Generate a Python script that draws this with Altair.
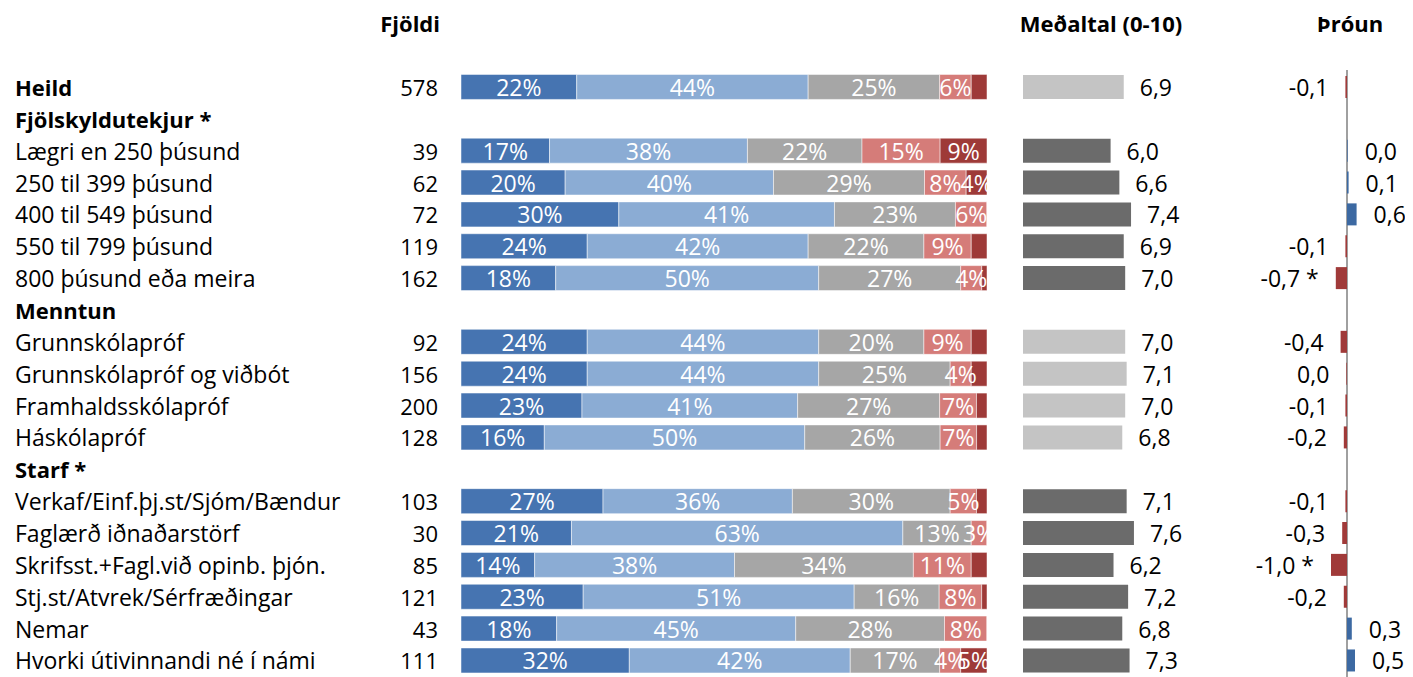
import altair as alt
import pandas as pd

FONT = "Open Sans"

rows = ["Heild", "Fjölskyldutekjur *", "Lægri en 250 þúsund", "250 til 399 þúsund",
        "400 til 549 þúsund", "550 til 799 þúsund", "800 þúsund eða meira", "Menntun",
        "Grunnskólapróf", "Grunnskólapróf og viðbót", "Framhaldsskólapróf", "Háskólapróf",
        "Starf *", "Verkaf/Einf.þj.st/Sjóm/Bændur", "Faglærð iðnaðarstörf",
        "Skrifsst.+Fagl.við opinb. þjón.", "Stj.st/Atvrek/Sérfræðingar", "Nemar",
        "Hvorki útivinnandi né í námi"]
is_header = [True, True, False, False, False, False, False, True, False, False, False, False,
             True, False, False, False, False, False, False]
group_sig = [False, True, True, True, True, True, True, False, False, False, False, False,
             True, True, True, True, True, True, True]
counts = [578, None, 39, 62, 72, 119, 162, None, 92, 156, 200, 128, None, 103, 30, 85, 121, 43, 111]

seg1 = [22, None, 17, 20, 30, 24, 18, None, 24, 24, 23, 16, None, 27, 21, 14, 23, 18, 32]
seg2 = [44, None, 38, 40, 41, 42, 50, None, 44, 44, 41, 50, None, 36, 63, 38, 51, 45, 42]
seg3 = [25, None, 22, 29, 23, 22, 27, None, 20, 25, 27, 26, None, 30, 13, 34, 16, 28, 17]
seg4 = [6, None, 15, 8, 6, 9, 4, None, 9, 4, 7, 7, None, 5, 3, 11, 8, 8, 4]
seg5 = [3, None, 9, 4, 0, 3, 1, None, 3, 3, 2, 2, None, 2, 0, 3, 1, 0, 5]

means = [6.9, None, 6.0, 6.6, 7.4, 6.9, 7.0, None, 7.0, 7.1, 7.0, 6.8, None, 7.1, 7.6, 6.2, 7.2, 6.8, 7.3]
trend = [-0.1, None, 0.04, 0.1, 0.6, -0.1, -0.7, None, -0.4, -0.04, -0.1, -0.2, None,
         -0.1, -0.3, -1.0, -0.2, 0.3, 0.5]
trend_sig = [False, False, False, False, False, False, True, False, False, False, False, False,
             False, False, False, True, False, False, False]

headers = ["Fjöldi", "Meðaltal (0-10)", "Þróun"]
seg_colors = ["#4674B1", "#8BACD4", "#A6A6A6", "#D57C79", "#9E3A38"]
label_min = [3, 3, 3, 3, 4]


def fmt(v):
    s = f"{abs(v):.1f}".replace(".", ",")
    if round(v, 1) < 0:
        s = "-" + s
    return s


rdf = pd.DataFrame({"row": rows, "header": is_header,
                    "count": [("" if c is None else str(c)) for c in counts]})

recs = []
for i, r in enumerate(rows):
    vals = [seg1[i], seg2[i], seg3[i], seg4[i], seg5[i]]
    if vals[0] is None:
        continue
    tot = float(sum(vals))
    cum = 0.0
    for k, v in enumerate(vals):
        x0 = cum / tot
        cum += v
        x1 = cum / tot
        recs.append({"row": r, "seg": k, "val": v, "x0": x0, "x1": x1, "mid": (x0 + x1) / 2,
                     "label": f"{v}%", "show": v >= label_min[k]})
sdf = pd.DataFrame(recs)

mrecs = []
for i, r in enumerate(rows):
    if means[i] is None:
        continue
    mrecs.append({"row": r, "mean": means[i], "mlabel": fmt(means[i]),
                  "mcol": "#6B6B6B" if group_sig[i] else "#C4C4C4",
                  "trend": trend[i],
                  "tlabel": fmt(trend[i]) + (" *" if trend_sig[i] else ""),
                  "tcol": "#3C69A2" if trend[i] > 0 else "#A03A39",
                  "pos": trend[i] > 0})
mdf = pd.DataFrame(mrecs)

Y = alt.Y("row:N", sort=rows, axis=None,
          scale=alt.Scale(domain=rows, range=[63.0, 668.4], paddingInner=0, paddingOuter=0))

SX = alt.Scale(domain=[0, 1], range=[453, 979])
MX = alt.Scale(domain=[0, 10], range=[1015, 1161])
TX = alt.Scale(domain=[-1, 1], range=[1323, 1355])

FS = 23
DY = 2


def txt(**kw):
    base = dict(baseline="middle", font=FONT, fontSize=FS, color="black", dy=DY)
    base.update(kw)
    return base


base_r = alt.Chart(rdf)
lab_norm = base_r.mark_text(**txt(align="left")).encode(
    x=alt.value(7), y=Y, text="row:N").transform_filter("!datum.header")
lab_bold = base_r.mark_text(**txt(align="left", fontWeight="bold", fontSize=22)).encode(
    x=alt.value(7), y=Y, text="row:N").transform_filter("datum.header")
cnt = base_r.mark_text(**txt(align="right", fontSize=22)).encode(
    x=alt.value(430), y=Y, text="count:N")

bars = alt.Chart(sdf).mark_bar(size=25, stroke="white", strokeWidth=0.5).encode(
    x=alt.X("x0:Q", scale=SX, axis=None), x2="x1:Q", y=Y,
    color=alt.Color("seg:N", scale=alt.Scale(domain=[0, 1, 2, 3, 4], range=seg_colors), legend=None))
blabels = alt.Chart(sdf).mark_text(**txt(align="center", color="white")).encode(
    x=alt.X("mid:Q", scale=SX, axis=None), y=Y, text="label:N").transform_filter("datum.show")

mbars = alt.Chart(mdf).mark_bar(size=24).encode(
    x=alt.X("mean:Q", scale=MX, axis=None), y=Y, color=alt.Color("mcol:N", scale=None))
mlabels = alt.Chart(mdf).mark_text(**txt(align="left", dx=16)).encode(
    x=alt.X("mean:Q", scale=MX, axis=None), y=Y, text="mlabel:N")

tbars = alt.Chart(mdf).mark_bar(size=22).encode(
    x=alt.X("trend:Q", scale=TX, axis=None), y=Y, color=alt.Color("tcol:N", scale=None))
tlab_neg = alt.Chart(mdf).mark_text(**txt(align="right", dx=-17)).encode(
    x=alt.X("trend:Q", scale=TX, axis=None), y=Y, text="tlabel:N").transform_filter("!datum.pos")
tlab_pos = alt.Chart(mdf).mark_text(**txt(align="left", dx=17)).encode(
    x=alt.X("trend:Q", scale=TX, axis=None), y=Y, text="tlabel:N").transform_filter("datum.pos")

rule = alt.Chart(mdf).mark_rule(color="#A0A0A0", strokeWidth=1.5).encode(
    x=alt.value(1339), y=alt.value(62), y2=alt.value(669))

hdf = pd.DataFrame({"h": headers})
h1 = alt.Chart(hdf).mark_text(**txt(align="right", fontWeight="bold", fontSize=22, dy=0)).encode(
    x=alt.value(432), y=alt.value(17), text="h:N").transform_filter(f"datum.h == '{headers[0]}'")
h2 = alt.Chart(hdf).mark_text(**txt(align="center", fontWeight="bold", fontSize=22, dy=0)).encode(
    x=alt.value(1093), y=alt.value(17), text="h:N").transform_filter(f"datum.h == '{headers[1]}'")
h3 = alt.Chart(hdf).mark_text(**txt(align="center", fontWeight="bold", fontSize=22, dy=0)).encode(
    x=alt.value(1342), y=alt.value(17), text="h:N").transform_filter(f"datum.h == '{headers[2]}'")

chart = alt.layer(rule, bars, blabels, mbars, mlabels, tbars, tlab_neg, tlab_pos,
                  lab_norm, lab_bold, cnt, h1, h2, h3).resolve_scale(
    x="independent", color="independent").properties(
    width=1397, height=669, autosize=alt.AutoSizeParams(type="none"), padding=0,
    background="white").configure_view(stroke=None)

chart.save("out.html", embed_options={"renderer": "svg", "actions": False})
